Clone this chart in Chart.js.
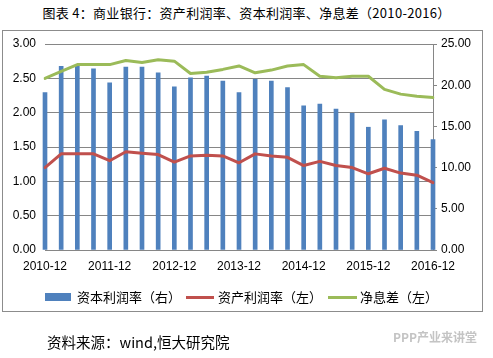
<!DOCTYPE html>
<html>
<head>
<meta charset="utf-8">
<script src="https://cdn.jsdelivr.net/npm/chart.js@4/dist/chart.umd.min.js"></script>
<style>
  html, body { margin: 0; padding: 0; background: #fff; }
  body { width: 493px; height: 358px; position: relative; overflow: hidden; font-family: "Noto Sans CJK SC", sans-serif; }
  #title { position: absolute; left: 0; width: 493px; top: 3px; text-align: center; font-size: 13px; line-height: 20px; color: #000; letter-spacing: 0.3px; }
  #frame { position: absolute; left: 2px; top: 30px; width: 479px; height: 280px; border: 1px solid #8c8c8c; }
  #chart { position: absolute; left: 0; top: 0; }
  .leg { position: absolute; font-size: 13px; line-height: 16px; color: #000; top: 289px; white-space: nowrap; }
  .sw { position: absolute; }
  #src { position: absolute; left: 47px; top: 332px; font-size: 14.5px; line-height: 20px; color: #000; }
  #wm { position: absolute; left: 393px; top: 329px; font-size: 12px; line-height: 16px; color: #c4c4c4; font-weight: bold; }
</style>
</head>
<body>
<div id="title">图表 4：商业银行：资产利润率、资本利润率、净息差（2010-2016）</div>
<div id="frame"></div>
<canvas id="chart" width="493" height="358"></canvas>
<div class="sw" style="left:45px;top:293px;width:26px;height:8px;background:#4F81BD"></div>
<div class="leg" style="left:77px">资本利润率（右）</div>
<div class="sw" style="left:186px;top:296px;width:28px;height:3px;background:#C0504D"></div>
<div class="leg" style="left:218px">资产利润率（左）</div>
<div class="sw" style="left:328px;top:296px;width:29px;height:3px;background:#9BBB59"></div>
<div class="leg" style="left:360px">净息差（左）</div>
<div id="src">资料来源：wind,恒大研究院</div>
<div id="wm">PPP产业来讲堂</div>
<script>
const categories = [
  "2010-12","2011-03","2011-06","2011-09","2011-12","2012-03","2012-06","2012-09","2012-12",
  "2013-03","2013-06","2013-09","2013-12","2014-03","2014-06","2014-09","2014-12",
  "2015-03","2015-06","2015-09","2015-12","2016-03","2016-06","2016-09","2016-12"
];
const tickLabels = ["2010-12","2011-12","2012-12","2013-12","2014-12","2015-12","2016-12"];
const roe = [19.1, 22.3, 22.3, 22.0, 20.3, 22.2, 22.2, 21.5, 19.8, 20.9, 21.1, 20.5, 19.1,
             20.7, 20.5, 19.7, 17.5, 17.7, 17.1, 16.6, 14.9, 15.8, 15.1, 14.4, 13.4];
const roa = [1.20, 1.40, 1.40, 1.40, 1.30, 1.43, 1.41, 1.39, 1.28, 1.37, 1.38, 1.37, 1.27,
             1.40, 1.37, 1.35, 1.23, 1.29, 1.23, 1.20, 1.11, 1.19, 1.12, 1.09, 0.98];
const nim = [2.50, 2.60, 2.70, 2.70, 2.70, 2.76, 2.73, 2.77, 2.75, 2.57, 2.59, 2.63, 2.68,
             2.58, 2.62, 2.68, 2.70, 2.53, 2.51, 2.53, 2.53, 2.34, 2.27, 2.24, 2.22];
const seriesNames = ["资本利润率（右）", "资产利润率（左）", "净息差（左）"];

const gridColor = "#868686";
const tickFont = { family: "Liberation Sans", size: 12 };

new Chart(document.getElementById("chart"), {
  data: {
    labels: categories,
    datasets: [
      { type: "line", label: seriesNames[1], data: roa, yAxisID: "yL", borderColor: "#C0504D",
        borderWidth: 3, pointRadius: 0, tension: 0, order: 0, borderJoinStyle: "round", borderCapStyle: "round" },
      { type: "line", label: seriesNames[2], data: nim, yAxisID: "yL", borderColor: "#9BBB59",
        borderWidth: 3, pointRadius: 0, tension: 0, order: 0, borderJoinStyle: "round", borderCapStyle: "round" },
      { type: "bar", label: seriesNames[0], data: roe, yAxisID: "yR", backgroundColor: "#4F81BD",
        barThickness: 4, order: 1, clip: false }
    ]
  },
  options: {
    responsive: false,
    animation: false,
    devicePixelRatio: 1,
    layout: { padding: { left: 0, right: 0, top: 44, bottom: 78 } },
    plugins: { legend: { display: false }, tooltip: { enabled: false } },
    scales: {
      x: {
        type: "category",
        offset: false,
        grid: { display: true, drawOnChartArea: false, drawTicks: false },
        border: { display: true, color: gridColor, width: 1 },
        ticks: {
          autoSkip: false, maxRotation: 0, minRotation: 0, padding: 9,
          color: "#000", font: tickFont,
          callback: function (v, i) { const l = categories[i]; return tickLabels.includes(l) ? l : ""; }
        },
        afterFit: function (s) { s.height = 30; }
      },
      yL: {
        type: "linear", position: "left", min: 0, max: 3,
        grid: { color: gridColor, drawTicks: false, lineWidth: 1 },
        border: { display: false },
        ticks: { stepSize: 0.5, padding: 9, color: "#000", font: tickFont,
                 callback: v => v.toFixed(2) },
        afterFit: function (s) { s.width = 45; }
      },
      yR: {
        type: "linear", position: "right", min: 0, max: 25,
        grid: { drawOnChartArea: false, drawTicks: true, tickLength: 4, color: gridColor },
        border: { display: true, color: gridColor },
        ticks: { stepSize: 5, padding: 4, color: "#000", font: tickFont,
                 callback: v => v.toFixed(2) },
        afterFit: function (s) { s.width = 60; }
      }
    }
  }
});
</script>
</body>
</html>
